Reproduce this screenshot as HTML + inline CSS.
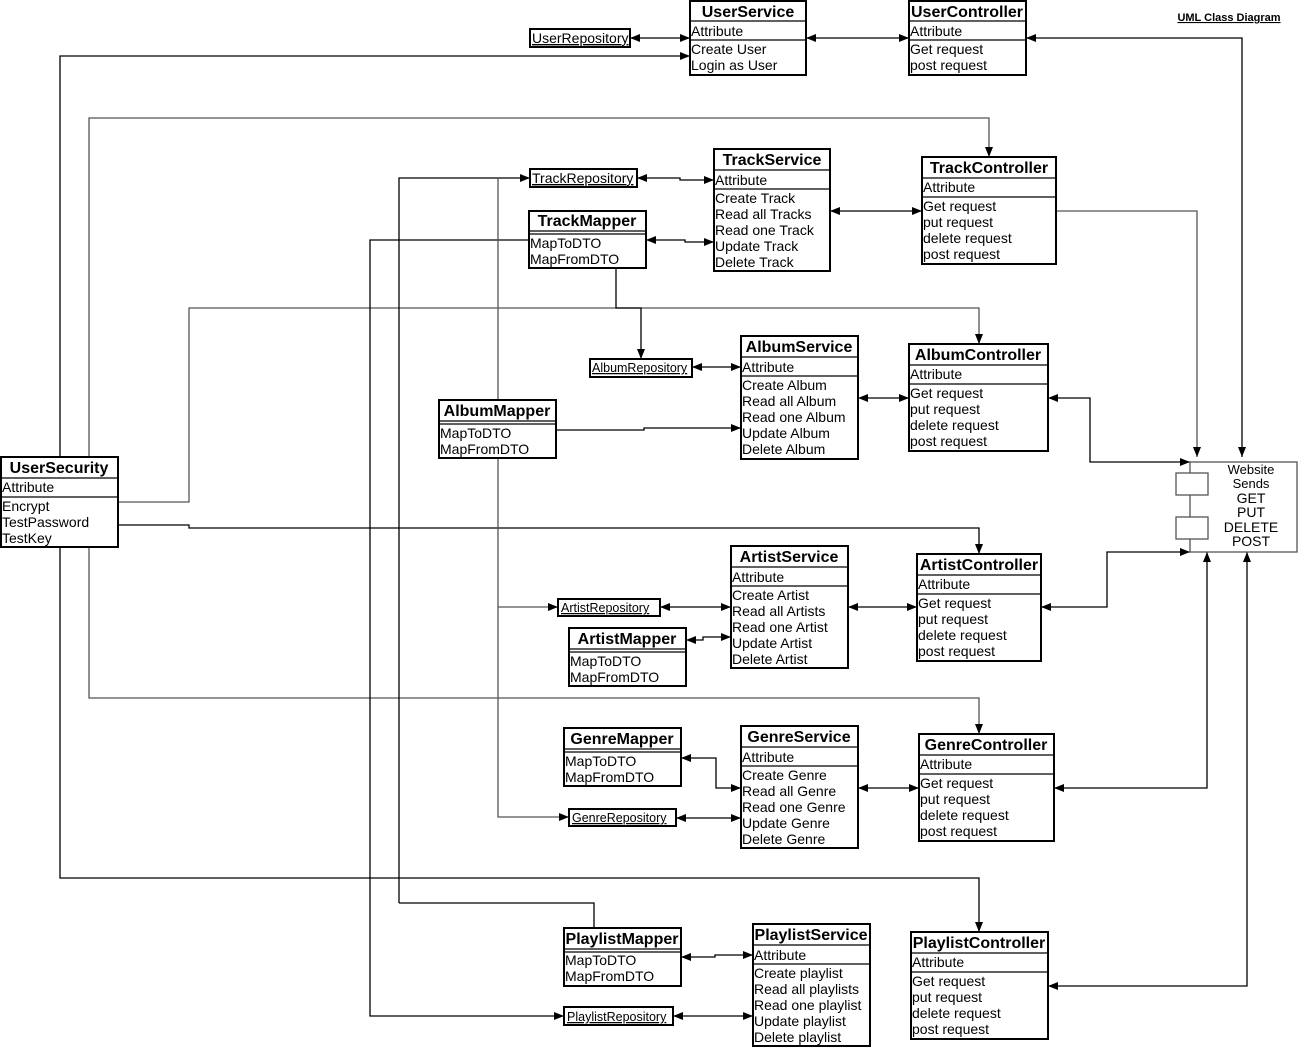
<!DOCTYPE html>
<html><head><meta charset="utf-8"><style>
html,body{margin:0;padding:0;background:#fff;}
svg{display:block;font-family:"Liberation Sans",Arial,sans-serif;}
.t{font-size:16px;font-weight:bold;text-anchor:middle;}
.m{font-size:14px;}
.b{fill:#fff;stroke:#000;stroke-width:2;}
.s{stroke:#000;stroke-width:1.2;}
.l{fill:none;stroke:#000;stroke-width:1.3;}
.g{fill:none;stroke:#555;stroke-width:1.3;}
</style></head><body>
<svg width="1311" height="1049" viewBox="0 0 1311 1049" xmlns="http://www.w3.org/2000/svg">
<defs>
<marker id="a" markerWidth="10" markerHeight="8" refX="10" refY="4" orient="auto-start-reverse" markerUnits="userSpaceOnUse"><path d="M0,0 L10,4 L0,8z" fill="#000"/></marker>
</defs>

<g class="l">
<path d="M630,38 H690" marker-start="url(#a)" marker-end="url(#a)"/>
<path d="M806,38 H909" marker-start="url(#a)" marker-end="url(#a)"/>
<path d="M1026,38 H1242 V457" marker-start="url(#a)" marker-end="url(#a)"/>
<path d="M60,457 V56 H690" marker-end="url(#a)"/>
<path d="M60,547 V878 H979 V932" marker-end="url(#a)"/>
<path d="M89,457 V118 H989 V157" class="g" marker-end="url(#a)"/>
<path d="M89,547 V698 H979 V734" class="g" marker-end="url(#a)"/>
<path d="M118,502 H189 V308 H979 V344" class="g" marker-end="url(#a)"/>
<path d="M118,525 H189 V528 H979 V554" marker-end="url(#a)"/>
<path d="M637,178 H680 V180 H714" marker-start="url(#a)" marker-end="url(#a)"/>
<path d="M646,240 H685 V242 H714" marker-start="url(#a)" marker-end="url(#a)"/>
<path d="M399,903 V178 H530" marker-end="url(#a)"/>
<path d="M399,903 H594 V928"/>
<path d="M529,240 H370 V1016 H564" marker-end="url(#a)"/>
<path d="M498,178 V817 H569" class="g" marker-end="url(#a)"/>
<path d="M498,607 H558" class="g" marker-end="url(#a)"/>
<path d="M616,268 V308 H641 V359" marker-end="url(#a)"/>
<path d="M692,367 H741" marker-start="url(#a)" marker-end="url(#a)"/>
<path d="M556,430 H644 V428 H741" marker-end="url(#a)"/>
<path d="M858,398 H909" marker-start="url(#a)" marker-end="url(#a)"/>
<path d="M830,211 H922" marker-start="url(#a)" marker-end="url(#a)"/>
<path d="M1056,211 H1197 V457" class="g" marker-end="url(#a)"/>
<path d="M1048,398 H1090 V462 H1190" marker-start="url(#a)" marker-end="url(#a)"/>
<path d="M660,607 H731" marker-start="url(#a)" marker-end="url(#a)"/>
<path d="M686,640 H703 V637 H731" marker-start="url(#a)" marker-end="url(#a)"/>
<path d="M848,607 H917" marker-start="url(#a)" marker-end="url(#a)"/>
<path d="M1041,607 H1107 V552 H1190" marker-start="url(#a)" marker-end="url(#a)"/>
<path d="M681,758 H716 V788 H741" marker-start="url(#a)" marker-end="url(#a)"/>
<path d="M676,818 H741" marker-start="url(#a)" marker-end="url(#a)"/>
<path d="M858,788 H919" marker-start="url(#a)" marker-end="url(#a)"/>
<path d="M1054,788 H1207 V552" marker-start="url(#a)" marker-end="url(#a)"/>
<path d="M681,957 H715 V955 H753" marker-start="url(#a)" marker-end="url(#a)"/>
<path d="M673,1016 H753" marker-start="url(#a)" marker-end="url(#a)"/>
<path d="M1048,986 H1247 V552" marker-start="url(#a)" marker-end="url(#a)"/>
</g>

<rect x="1190" y="462" width="107" height="90" fill="#fff" stroke="#555" stroke-width="1.3"/>
<rect x="1176" y="473" width="32" height="22" fill="#fff" stroke="#555" stroke-width="1.3"/>
<rect x="1176" y="517" width="32" height="22" fill="#fff" stroke="#555" stroke-width="1.3"/>
<g class="m" text-anchor="middle" font-size="13">
<text x="1251" y="474" font-size="13">Website</text>
<text x="1251" y="488" font-size="13">Sends</text>
<text x="1251" y="503">GET</text>
<text x="1251" y="517">PUT</text>
<text x="1251" y="532">DELETE</text>
<text x="1251" y="546">POST</text>
</g>

<text x="1229" y="21" font-size="11" font-weight="bold" text-anchor="middle" text-decoration="underline">UML Class Diagram</text>

<g class="m" font-size="13">
<rect x="530" y="29" width="100" height="18" class="b" stroke-width="1.3"/><text x="532" y="43" text-decoration="underline">UserRepository</text>
<rect x="530" y="169" width="107" height="18" class="b" stroke-width="1.3"/><text x="532" y="183" text-decoration="underline">TrackRepository</text>
<rect x="590" y="359" width="102" height="18" class="b" stroke-width="1.3"/><text x="592" y="372" font-size="12.5" text-decoration="underline">AlbumRepository</text>
<rect x="558" y="599" width="102" height="17" class="b" stroke-width="1.3"/><text x="561" y="612" font-size="12.5" text-decoration="underline">ArtistRepository</text>
<rect x="569" y="809" width="107" height="17" class="b" stroke-width="1.3"/><text x="572" y="822" font-size="12.5" text-decoration="underline">GenreRepository</text>
<rect x="564" y="1007" width="109" height="18" class="b" stroke-width="1.3"/><text x="567" y="1021" font-size="12.5" text-decoration="underline">PlaylistRepository</text>
</g>

<g>
<rect x="690" y="1" width="116" height="74" class="b"/>
<line x1="690" y1="21" x2="806" y2="21" class="s"/><line x1="690" y1="40" x2="806" y2="40" class="s"/>
<text x="748" y="17" class="t">UserService</text><text x="691" y="36" class="m">Attribute</text>
<text x="691" y="54" class="m">Create User</text><text x="691" y="70" class="m">Login as User</text>
<rect x="909" y="1" width="117" height="74" class="b"/>
<line x1="909" y1="21" x2="1026" y2="21" class="s"/><line x1="909" y1="40" x2="1026" y2="40" class="s"/>
<text x="967" y="17" class="t">UserController</text><text x="910" y="36" class="m">Attribute</text>
<text x="910" y="54" class="m">Get request</text><text x="910" y="70" class="m">post request</text>
<rect x="714" y="149" width="116" height="122" class="b"/>
<line x1="714" y1="170" x2="830" y2="170" class="s"/><line x1="714" y1="189" x2="830" y2="189" class="s"/>
<text x="772" y="165" class="t">TrackService</text><text x="715" y="185" class="m">Attribute</text>
<text x="715" y="203" class="m">Create Track</text><text x="715" y="219" class="m">Read all Tracks</text><text x="715" y="235" class="m">Read one Track</text><text x="715" y="251" class="m">Update Track</text><text x="715" y="267" class="m">Delete Track</text>
<rect x="922" y="157" width="134" height="107" class="b"/>
<line x1="922" y1="178" x2="1056" y2="178" class="s"/><line x1="922" y1="197" x2="1056" y2="197" class="s"/>
<text x="989" y="173" class="t">TrackController</text><text x="923" y="192" class="m">Attribute</text>
<text x="923" y="211" class="m">Get request</text><text x="923" y="227" class="m">put request</text><text x="923" y="243" class="m">delete request</text><text x="923" y="259" class="m">post request</text>
<rect x="741" y="336" width="117" height="123" class="b"/>
<line x1="741" y1="357" x2="858" y2="357" class="s"/><line x1="741" y1="376" x2="858" y2="376" class="s"/>
<text x="799" y="352" class="t">AlbumService</text><text x="742" y="372" class="m">Attribute</text>
<text x="742" y="390" class="m">Create Album</text><text x="742" y="406" class="m">Read all Album</text><text x="742" y="422" class="m">Read one Album</text><text x="742" y="438" class="m">Update Album</text><text x="742" y="454" class="m">Delete Album</text>
<rect x="909" y="344" width="139" height="107" class="b"/>
<line x1="909" y1="365" x2="1048" y2="365" class="s"/><line x1="909" y1="384" x2="1048" y2="384" class="s"/>
<text x="978" y="360" class="t">AlbumController</text><text x="910" y="379" class="m">Attribute</text>
<text x="910" y="398" class="m">Get request</text><text x="910" y="414" class="m">put request</text><text x="910" y="430" class="m">delete request</text><text x="910" y="446" class="m">post request</text>
<rect x="1" y="457" width="117" height="90" class="b"/>
<line x1="1" y1="478" x2="118" y2="478" class="s"/><line x1="1" y1="497" x2="118" y2="497" class="s"/>
<text x="59" y="473" class="t">UserSecurity</text><text x="2" y="492" class="m">Attribute</text>
<text x="2" y="511" class="m">Encrypt</text><text x="2" y="527" class="m">TestPassword</text><text x="2" y="543" class="m">TestKey</text>
<rect x="731" y="546" width="117" height="122" class="b"/>
<line x1="731" y1="567" x2="848" y2="567" class="s"/><line x1="731" y1="586" x2="848" y2="586" class="s"/>
<text x="789" y="562" class="t">ArtistService</text><text x="732" y="582" class="m">Attribute</text>
<text x="732" y="600" class="m">Create Artist</text><text x="732" y="616" class="m">Read all Artists</text><text x="732" y="632" class="m">Read one Artist</text><text x="732" y="648" class="m">Update Artist</text><text x="732" y="664" class="m">Delete Artist</text>
<rect x="917" y="554" width="124" height="107" class="b"/>
<line x1="917" y1="575" x2="1041" y2="575" class="s"/><line x1="917" y1="594" x2="1041" y2="594" class="s"/>
<text x="979" y="570" class="t">ArtistController</text><text x="918" y="589" class="m">Attribute</text>
<text x="918" y="608" class="m">Get request</text><text x="918" y="624" class="m">put request</text><text x="918" y="640" class="m">delete request</text><text x="918" y="656" class="m">post request</text>
<rect x="741" y="726" width="117" height="122" class="b"/>
<line x1="741" y1="747" x2="858" y2="747" class="s"/><line x1="741" y1="766" x2="858" y2="766" class="s"/>
<text x="799" y="742" class="t">GenreService</text><text x="742" y="762" class="m">Attribute</text>
<text x="742" y="780" class="m">Create Genre</text><text x="742" y="796" class="m">Read all Genre</text><text x="742" y="812" class="m">Read one Genre</text><text x="742" y="828" class="m">Update Genre</text><text x="742" y="844" class="m">Delete Genre</text>
<rect x="919" y="734" width="135" height="107" class="b"/>
<line x1="919" y1="755" x2="1054" y2="755" class="s"/><line x1="919" y1="774" x2="1054" y2="774" class="s"/>
<text x="986" y="750" class="t">GenreController</text><text x="920" y="769" class="m">Attribute</text>
<text x="920" y="788" class="m">Get request</text><text x="920" y="804" class="m">put request</text><text x="920" y="820" class="m">delete request</text><text x="920" y="836" class="m">post request</text>
<rect x="753" y="924" width="117" height="122" class="b"/>
<line x1="753" y1="945" x2="870" y2="945" class="s"/><line x1="753" y1="964" x2="870" y2="964" class="s"/>
<text x="811" y="940" class="t">PlaylistService</text><text x="754" y="960" class="m">Attribute</text>
<text x="754" y="978" class="m">Create playlist</text><text x="754" y="994" class="m">Read all playlists</text><text x="754" y="1010" class="m">Read one playlist</text><text x="754" y="1026" class="m">Update playlist</text><text x="754" y="1042" class="m">Delete playlist</text>
<rect x="911" y="932" width="137" height="107" class="b"/>
<line x1="911" y1="953" x2="1048" y2="953" class="s"/><line x1="911" y1="972" x2="1048" y2="972" class="s"/>
<text x="979" y="948" class="t">PlaylistController</text><text x="912" y="967" class="m">Attribute</text>
<text x="912" y="986" class="m">Get request</text><text x="912" y="1002" class="m">put request</text><text x="912" y="1018" class="m">delete request</text><text x="912" y="1034" class="m">post request</text>
</g>

<g>
<rect x="529" y="211" width="117" height="57" class="b"/>
<line x1="529" y1="231" x2="646" y2="231" class="s"/><line x1="529" y1="234" x2="646" y2="234" class="s"/>
<text x="587" y="226" class="t">TrackMapper</text><text x="530" y="248" class="m">MapToDTO</text><text x="530" y="264" class="m">MapFromDTO</text>
<rect x="439" y="400" width="117" height="58" class="b"/>
<line x1="439" y1="421" x2="556" y2="421" class="s"/><line x1="439" y1="424" x2="556" y2="424" class="s"/>
<text x="497" y="416" class="t">AlbumMapper</text><text x="440" y="438" class="m">MapToDTO</text><text x="440" y="454" class="m">MapFromDTO</text>
<rect x="569" y="628" width="117" height="58" class="b"/>
<line x1="569" y1="649" x2="686" y2="649" class="s"/><line x1="569" y1="652" x2="686" y2="652" class="s"/>
<text x="627" y="644" class="t">ArtistMapper</text><text x="570" y="666" class="m">MapToDTO</text><text x="570" y="682" class="m">MapFromDTO</text>
<rect x="564" y="728" width="117" height="58" class="b"/>
<line x1="564" y1="749" x2="681" y2="749" class="s"/><line x1="564" y1="752" x2="681" y2="752" class="s"/>
<text x="622" y="744" class="t">GenreMapper</text><text x="565" y="766" class="m">MapToDTO</text><text x="565" y="782" class="m">MapFromDTO</text>
<rect x="564" y="928" width="117" height="58" class="b"/>
<line x1="564" y1="949" x2="681" y2="949" class="s"/><line x1="564" y1="952" x2="681" y2="952" class="s"/>
<text x="622" y="944" class="t">PlaylistMapper</text><text x="565" y="965" class="m">MapToDTO</text><text x="565" y="981" class="m">MapFromDTO</text>
</g>
</svg>
</body></html>
